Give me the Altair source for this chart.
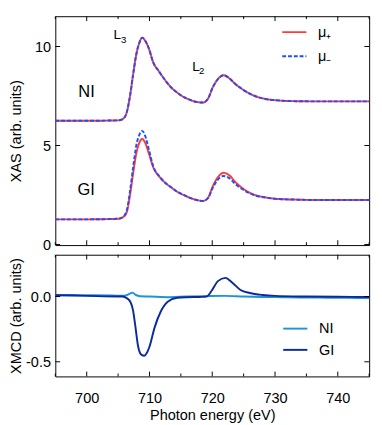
import altair as alt
import pandas as pd

FONT = "Liberation Sans"

# ---------------- data ----------------
energy = [695, 700, 705, 705.8, 706.4, 706.9, 707.4, 707.9, 708.4, 708.85,
          709.3, 709.9, 710.6, 711.5, 712.5, 713.4, 714.5, 715.5, 716.5, 717.5,
          718.5, 719.3, 720.1, 720.9, 721.8, 722.7, 723.7, 725, 726.8, 728.5,
          730.4, 733, 736, 740, 745]
ni_xas = [6.25, 6.25, 6.27, 6.35, 6.7, 7.5, 8.6, 9.6, 10.2, 10.45,
          10.3, 9.9, 9.2, 8.75, 8.3, 7.95, 7.65, 7.44, 7.3, 7.2,
          7.17, 7.35, 7.95, 8.35, 8.55, 8.4, 8.1, 7.8, 7.5, 7.35,
          7.28, 7.24, 7.23, 7.23, 7.23]
gi_plus = [1.27, 1.27, 1.3, 1.38, 1.65, 2.5, 3.6, 4.6, 5.15, 5.33,
           5.15, 4.6, 3.9, 3.45, 3.12, 2.9, 2.65, 2.49, 2.35, 2.25,
           2.2, 2.35, 2.95, 3.4, 3.62, 3.5, 3.15, 2.8, 2.5, 2.38,
           2.3, 2.27, 2.25, 2.25, 2.25]
gi_minus = [1.27, 1.27, 1.3, 1.4, 1.75, 2.7, 3.9, 5.0, 5.55, 5.74,
            5.5, 4.8, 3.95, 3.47, 3.12, 2.9, 2.65, 2.49, 2.35, 2.25,
            2.2, 2.33, 2.88, 3.28, 3.46, 3.35, 3.05, 2.75, 2.48, 2.37,
            2.3, 2.27, 2.25, 2.25, 2.25]

gi_xmcd_e = [695, 700, 705, 705.6, 706.3, 706.95, 707.4, 707.7, 708.2, 708.7,
             709.2, 709.6, 710.0, 710.8, 711.8, 712.9, 714.4, 716, 718, 719.1,
             719.9, 720.9, 722.1, 723.2, 724.5, 726, 728, 730, 735, 740, 745]
gi_xmcd = [0.01, 0.005, 0.0, 0.0, -0.01, -0.04, -0.11, -0.21, -0.385, -0.445,
           -0.453, -0.43, -0.385, -0.24, -0.115, -0.04, -0.01, -0.005, -0.003, 0.0,
           0.044, 0.118, 0.143, 0.106, 0.05, 0.027, 0.012, 0.005, 0.0, -0.002, -0.003]
ni_xmcd_e = [695, 698, 701, 704, 706, 706.8, 707.3, 707.8, 708.5, 710, 713,
             716, 719, 722, 725, 728, 731, 734, 737, 740, 743, 745]
ni_xmcd = [0.012, 0.011, 0.01, 0.008, 0.006, 0.02, 0.03, 0.012, 0.002, 0.0, -0.005,
           0.0, 0.003, 0.005, 0.0, -0.003, -0.005, -0.007, -0.008, -0.01, -0.011, -0.012]

pol_labels = ["μ₊", "μ₋"]
pol_colors = ["#ff3b3b", "#1f4dff"]
xmcd_labels = ["NI", "GI"]
xmcd_colors = ["#1c94dc", "#0c2a9a"]

x_major = [700, 710, 720, 730, 740]
x_minor = [695, 705, 715, 725, 735, 745]
y_top_ticks = [0, 5, 10]
y_bot_ticks = [0, -0.5]

labels_text = ["NI", "GI", "L", "3", "L", "2"]
labels_e = [699.97, 699.9, 704.85, 705.9, 717.4, 718.3]
labels_v = [7.71, 2.73, 10.55, 10.32, 8.97, 8.78]
labels_fs = [17, 17, 14, 10, 14, 10]

# ---------------- layout ----------------
W = 325
H1 = 237
H2 = 126

xscale = alt.Scale(domain=[695, 745], nice=False, zero=False)
y1scale = alt.Scale(domain=[-0.03, 11.53], nice=False, zero=False)
y2scale = alt.Scale(domain=[-0.612, 0.32], nice=False, zero=False)

y1axis = alt.Axis(values=y_top_ticks, format="d", ticks=False, domain=False, grid=False,
                  labelPadding=5, labelFontSize=15, title="XAS (arb. units)",
                  titleFontSize=15, titleFontWeight="normal", titleX=-41,
                  titleBaseline="middle")
xaxis = alt.Axis(values=x_major, format="d", ticks=False, domain=False, grid=False,
                 labelPadding=15, labelFontSize=15, title="Photon energy (eV)",
                 titleFontSize=15, titleFontWeight="normal", titleY=40,
                 titleBaseline="middle")
y2axis = alt.Axis(values=y_bot_ticks, ticks=False, domain=False, grid=False,
                  labelExpr="datum.value < 0 ? '-' + format(-datum.value, '.1f') : format(datum.value, '.1f')",
                  labelPadding=5, labelFontSize=15, title="XMCD (arb. units)",
                  titleFontSize=15, titleFontWeight="normal", titleX=-41,
                  titleBaseline="middle")

plus_df = pd.DataFrame({
    "E": energy + energy,
    "val": ni_xas + gi_plus,
    "sample": ["NI"] * len(energy) + ["GI"] * len(energy),
    "pol": [pol_labels[0]] * (2 * len(energy)),
})
minus_df = pd.DataFrame({
    "E": energy + energy,
    "val": ni_xas + gi_minus,
    "sample": ["NI"] * len(energy) + ["GI"] * len(energy),
    "pol": [pol_labels[1]] * (2 * len(energy)),
})

top_legend = alt.Legend(orient="none", legendX=234, legendY=3, title=None,
                        symbolType="stroke", symbolSize=625, symbolStrokeWidth=2,
                        labelFontSize=15, labelOffset=11, rowPadding=3, padding=0,
                        labelFont=FONT, labelColor="black")


def xas_layer(df):
    return alt.Chart(df).mark_line(strokeWidth=2, interpolate="monotone").encode(
        x=alt.X("E:Q", scale=xscale, axis=None),
        y=alt.Y("val:Q", scale=y1scale, axis=y1axis),
        color=alt.Color("pol:N", scale=alt.Scale(domain=pol_labels, range=pol_colors),
                        legend=top_legend),
        strokeDash=alt.StrokeDash("pol:N", scale=alt.Scale(domain=pol_labels,
                                                           range=[[1, 0], [4, 2]]),
                                  legend=top_legend),
        detail="sample:N",
    )


def x_tick_layers(x_axis, H):
    out = []
    for vals, ln in ((x_major, 5), (x_minor, 3)):
        base = alt.Chart(pd.DataFrame({"E": vals}))
        enc_x = alt.X("E:Q", scale=xscale, axis=x_axis)
        out.append(base.mark_rule(color="black", strokeWidth=1).encode(
            x=enc_x, y=alt.value(H), y2=alt.value(H - ln)))
        out.append(base.mark_rule(color="black", strokeWidth=1).encode(
            x=enc_x, y=alt.value(0), y2=alt.value(ln)))
    return out


def y_tick_layers(vals, yscale, y_axis):
    base = alt.Chart(pd.DataFrame({"val": vals}))
    enc_y = alt.Y("val:Q", scale=yscale, axis=y_axis)
    return [
        base.mark_rule(color="black", strokeWidth=1).encode(
            y=enc_y, x=alt.value(0), x2=alt.value(5)),
        base.mark_rule(color="black", strokeWidth=1).encode(
            y=enc_y, x=alt.value(W), x2=alt.value(W - 5)),
    ]


ann = pd.DataFrame({"E": labels_e, "val": labels_v, "text": labels_text, "fs": labels_fs})
ann_layer = alt.Chart(ann).mark_text(align="center", baseline="middle", color="black",
                                     font=FONT).encode(
    x=alt.X("E:Q", scale=xscale, axis=None),
    y=alt.Y("val:Q", scale=y1scale, axis=y1axis),
    text="text:N",
    size=alt.Size("fs:Q", scale=None, legend=None),
)

top = alt.layer(
    xas_layer(plus_df),
    xas_layer(minus_df),
    ann_layer,
    *x_tick_layers(None, H1),
    *y_tick_layers(y_top_ticks, y1scale, y1axis),
).properties(width=W, height=H1)

# ---------------- bottom panel ----------------
ni_df = pd.DataFrame({"E": ni_xmcd_e, "val": ni_xmcd, "sample": "NI"})
gi_df = pd.DataFrame({"E": gi_xmcd_e, "val": gi_xmcd, "sample": "GI"})

bot_legend = alt.Legend(orient="none", legendX=235, legendY=63, title=None,
                        symbolType="stroke", symbolSize=625, symbolStrokeWidth=2,
                        labelFontSize=15, labelOffset=11, rowPadding=0, padding=0,
                        labelFont=FONT, labelColor="black")


def xmcd_layer(df):
    return alt.Chart(df).mark_line(strokeWidth=2, interpolate="monotone").encode(
        x=alt.X("E:Q", scale=xscale, axis=xaxis),
        y=alt.Y("val:Q", scale=y2scale, axis=y2axis),
        color=alt.Color("sample:N", scale=alt.Scale(domain=xmcd_labels, range=xmcd_colors),
                        legend=bot_legend),
    )


bottom = alt.layer(
    xmcd_layer(ni_df),
    xmcd_layer(gi_df),
    *x_tick_layers(xaxis, H2),
    *y_tick_layers(y_bot_ticks, y2scale, y2axis),
).properties(width=W, height=H2)

chart = alt.vconcat(top, bottom, spacing=1).resolve_scale(
    color="independent", strokeDash="independent"
).properties(padding=0).configure(font=FONT).configure_view(
    stroke="black", strokeWidth=1
).configure_axis(
    labelColor="black", titleColor="black", labelFont=FONT, titleFont=FONT
)

chart.save("out.html", embed_options={"renderer": "svg", "actions": False})
